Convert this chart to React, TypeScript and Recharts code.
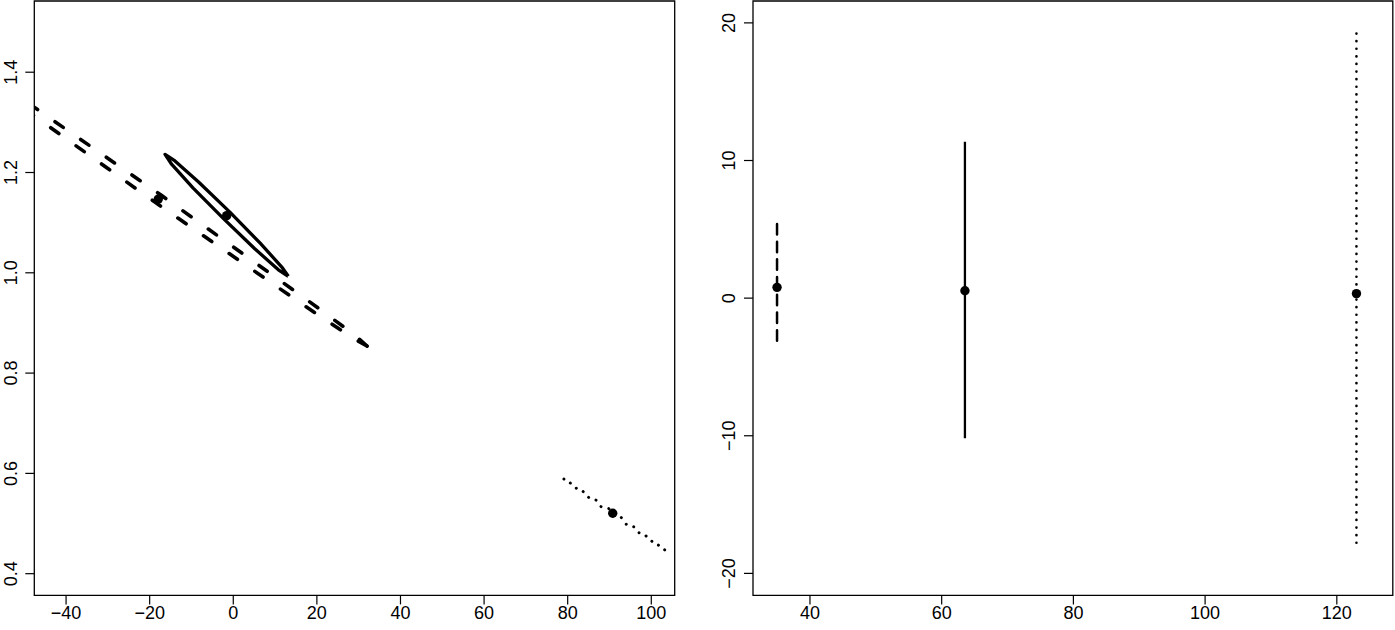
import React from 'react';
import { ComposedChart, Line, Scatter, XAxis, YAxis, ReferenceArea } from 'recharts';

// tick labels
const leftXTicks = [-40, -20, 0, 20, 40, 60, 80, 100];
const leftYTicks = [0.4, 0.6, 0.8, 1.0, 1.2, 1.4];
const rightXTicks = [40, 60, 80, 100, 120];
const rightYTicks = [-20, -10, 0, 10, 20];

const leftXDomain = [-47.6, 105.6];
const leftYDomain = [0.3567, 1.542];
const rightXDomain = [31.35, 128.5];
const rightYDomain = [-21.6, 21.59];

// left panel: ellipse outlines
const solidOutline = [
  { x: 13.16, y: 0.993 }, { x: 10.79, y: 1.006 }, { x: 5.14, y: 1.048 },
  { x: -2.34, y: 1.108 }, { x: -9.59, y: 1.169 }, { x: -14.71, y: 1.216 },
  { x: -16.32, y: 1.236 }, { x: -13.95, y: 1.223 }, { x: -8.3, y: 1.181 },
  { x: -0.81, y: 1.121 }, { x: 6.44, y: 1.059 }, { x: 11.56, y: 1.012 },
  { x: 13.16, y: 0.993 },
];

// dashed ellipse, split in two halves that both start at the right tip
const dashedLower = [
  { x: 31.99, y: 0.854 }, { x: 28.76, y: 0.869 }, { x: 16.91, y: 0.935 },
  { x: -18.59, y: 1.14 }, { x: -53.7, y: 1.349 }, { x: -65.07, y: 1.42 },
  { x: -67.88, y: 1.44 },
];
const dashedUpper = [
  { x: 31.99, y: 0.854 }, { x: 29.19, y: 0.875 }, { x: 17.82, y: 0.945 },
  { x: -17.3, y: 1.155 }, { x: -52.8, y: 1.36 }, { x: -64.64, y: 1.425 },
  { x: -67.88, y: 1.44 },
];

// dotted ellipse halves
const dottedLower = [{ x: 103.21, y: 0.4475 }, { x: 90.6, y: 0.5175 }, { x: 78.33, y: 0.5935 }];
const dottedUpper = [{ x: 103.21, y: 0.4475 }, { x: 90.95, y: 0.5235 }, { x: 78.33, y: 0.5935 }];

const leftCenters = [
  { x: -17.94, y: 1.147 },
  { x: -1.58, y: 1.114 },
  { x: 90.77, y: 0.5205 },
];

// right panel: degenerate ellipses (vertical segments)
const rightDashed = [{ x: 35.0, y: 5.39 }, { x: 35.0, y: -3.53 }];
const rightSolid = [{ x: 63.53, y: 11.37 }, { x: 63.53, y: -10.19 }];
const rightDotted = [{ x: 122.98, y: 19.23 }, { x: 122.98, y: -18.16 }];
const rightCenters = [
  { x: 35.0, y: 0.785 },
  { x: 63.53, y: 0.54 },
  { x: 122.98, y: 0.33 },
];

const FONT = '"Liberation Sans", Arial, Helvetica, sans-serif';
const FS = 18;
const fmtNum = (digits: number) => (v: number) => {
  const s = v.toFixed(digits);
  return s.startsWith('-') ? '\u2212' + s.slice(1) : s;
};

const RotatedTick = (props: any) => {
  const { y, payload, frameX, fmt } = props;
  const lx = frameX - 24;
  return (
    <text
      x={lx}
      y={y}
      dy="0.36em"
      transform={`rotate(-90 ${lx} ${y})`}
      textAnchor="middle"
      fontFamily={FONT}
      fontSize={FS}
      fill="#000"
    >
      {fmt(payload.value)}
    </text>
  );
};

const dotShape = (p: any) => <circle cx={p.cx} cy={p.cy} r={4.7} fill="#000" />;

const lineBase = { dataKey: 'y', stroke: '#000', dot: false, activeDot: false, isAnimationActive: false } as const;

export default function App() {
  const tickStyle = { fontFamily: FONT, fontSize: FS, fill: '#000' };
  return (
    <div style={{ position: 'absolute', left: 0, top: 0, width: 1395, height: 630, background: '#fff' }}>
      <div style={{ position: 'absolute', left: 0, top: 0 }}>
        <ComposedChart width={697} height={630} margin={{ top: 1, right: 22.3, left: 0, bottom: 0 }}>
          <XAxis
            type="number"
            dataKey="x"
            domain={leftXDomain}
            allowDataOverflow
            ticks={leftXTicks}
            interval={0}
            height={34.6}
            axisLine={false}
            tickSize={9}
            tickMargin={2}
            tickLine={{ stroke: '#000', strokeWidth: 1.2 }}
            tick={tickStyle}
            tickFormatter={fmtNum(0)}
          />
          <YAxis
            type="number"
            dataKey="y"
            domain={leftYDomain}
            allowDataOverflow
            ticks={leftYTicks}
            interval={0}
            width={34.3}
            axisLine={false}
            tickSize={9}
            tickLine={{ stroke: '#000', strokeWidth: 1.2 }}
            tick={<RotatedTick frameX={34.3} fmt={fmtNum(1)} />}
          />
          <Line {...lineBase} data={dashedLower} strokeWidth={3.6} strokeDasharray="10 21.2" strokeLinecap="round" />
          <Line {...lineBase} data={dashedUpper} strokeWidth={3.6} strokeDasharray="10 21.2" strokeLinecap="round" />
          <Line {...lineBase} data={solidOutline} strokeWidth={3.3} strokeLinejoin="round" />
          <Line {...lineBase} data={dottedLower} strokeWidth={2.9} strokeDasharray="0.1 15.3" strokeLinecap="round" />
          <Line {...lineBase} data={dottedUpper} strokeWidth={2.9} strokeDasharray="0.1 15.3" strokeDashoffset={7.6}
            strokeLinecap="round" />
          <Scatter data={leftCenters} dataKey="y" shape={dotShape} isAnimationActive={false} />
          <ReferenceArea x1={leftXDomain[0]} x2={leftXDomain[1]} y1={leftYDomain[0]} y2={leftYDomain[1]}
            fill="none" stroke="#000" strokeWidth={1.3} ifOverflow="visible" />
        </ComposedChart>
      </div>
      <div style={{ position: 'absolute', left: 697, top: 0 }}>
        <ComposedChart width={698} height={630} margin={{ top: 1, right: 2.2, left: 0, bottom: 0 }}>
          <XAxis
            type="number"
            dataKey="x"
            domain={rightXDomain}
            allowDataOverflow
            ticks={rightXTicks}
            interval={0}
            height={34.6}
            axisLine={false}
            tickSize={9}
            tickMargin={2}
            tickLine={{ stroke: '#000', strokeWidth: 1.2 }}
            tick={tickStyle}
            tickFormatter={fmtNum(0)}
          />
          <YAxis
            type="number"
            dataKey="y"
            domain={rightYDomain}
            allowDataOverflow
            ticks={rightYTicks}
            interval={0}
            width={56}
            axisLine={false}
            tickSize={9}
            tickLine={{ stroke: '#000', strokeWidth: 1.2 }}
            tick={<RotatedTick frameX={56} fmt={fmtNum(0)} />}
          />
          <Line {...lineBase} data={rightDashed} strokeWidth={2.5} strokeDasharray="10.5 7.2" strokeLinecap="round" />
          <Line {...lineBase} data={rightSolid} strokeWidth={2.3} />
          <Line {...lineBase} data={rightDotted} strokeWidth={2.6} strokeDasharray="0.1 7.5" strokeLinecap="round" />
          <Scatter data={rightCenters} dataKey="y" shape={dotShape} isAnimationActive={false} />
          <ReferenceArea x1={rightXDomain[0]} x2={rightXDomain[1]} y1={rightYDomain[0]} y2={rightYDomain[1]}
            fill="none" stroke="#000" strokeWidth={1.3} ifOverflow="visible" />
        </ComposedChart>
      </div>
    </div>
  );
}
